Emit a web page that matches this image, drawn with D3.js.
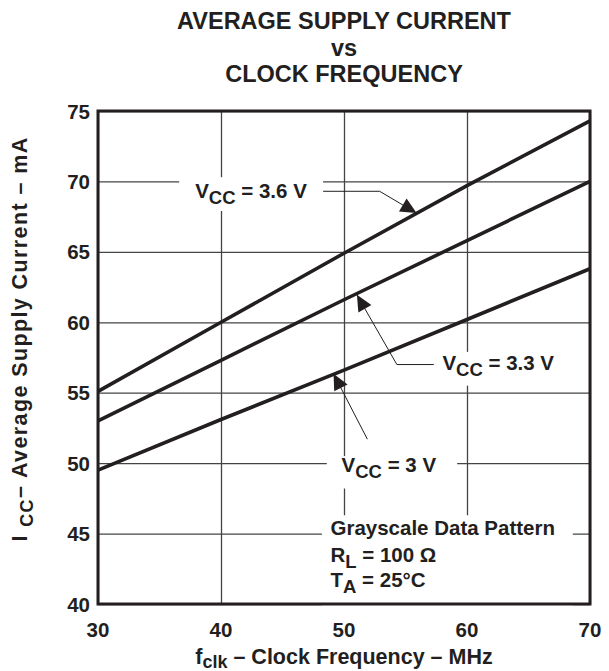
<!DOCTYPE html>
<html>
<head>
<meta charset="utf-8">
<script src="https://cdn.jsdelivr.net/npm/d3@7"></script>
<style>
  body { margin: 0; background: #fff; }
  text { font-family: "Liberation Sans", Arial, sans-serif; font-weight: bold; fill: #231f20; }
</style>
</head>
<body>
<svg width="609" height="671"></svg>
<script>
// ---- data ----
const freq = [30, 40, 50, 60, 70];                 // MHz
const icc36 = [55.1, 60.0, 64.9, 69.7, 74.3];       // mA, VCC = 3.6 V
const icc33 = [53.0, 57.3, 61.6, 65.8, 70.0];       // mA, VCC = 3.3 V
const icc30 = [49.5, 53.1, 56.6, 60.2, 63.8];       // mA, VCC = 3 V
const xTicks = [30, 40, 50, 60, 70];
const yTicks = [40, 45, 50, 55, 60, 65, 70, 75];

const svg = d3.select('svg');
const ink = '#231f20';

// plot box in pixels
const box = { l: 98, r: 590, t: 111, b: 604 };

const xScale = d3.scaleLinear().domain([30, 70]).range([box.l, box.r]);
const yScale = d3.scaleLinear().domain([40, 75]).range([box.b, box.t]);

// title
const title = ['AVERAGE SUPPLY CURRENT', 'vs', 'CLOCK FREQUENCY'];
svg.selectAll('.title')
    .data(title)
    .enter()
    .append('text')
    .attr('class', 'title')
    .attr('x', (box.l + box.r) / 2)
    .attr('y', (d, i) => 29 + i * 26.5)
    .attr('text-anchor', 'middle')
    .style('font-size', '23.5px')
    .text(d => d);

// grid
const xGrid = d3.axisTop(xScale).tickValues(xTicks).tickSize(-(box.b - box.t)).tickFormat('');
const yGrid = d3.axisLeft(yScale).tickValues(yTicks).tickSize(-(box.r - box.l)).tickFormat('');

svg.append('g')
    .attr('class', 'x grid')
    .attr('transform', `translate(0, ${box.t})`)
    .call(xGrid)
    .call(g => g.select('.domain').remove())
    .selectAll('line').attr('stroke', '#444').attr('stroke-width', 1.3);

svg.append('g')
    .attr('class', 'y grid')
    .attr('transform', `translate(${box.l}, 0)`)
    .call(yGrid)
    .call(g => g.select('.domain').remove())
    .selectAll('line').attr('stroke', '#444').attr('stroke-width', 1.3);

// white boxes behind labels (they break the grid)
const labelBoxes = [
    { f0: 36.6, f1: 48.3, v0: 70.3, v1: 67.9 },   // VCC = 3.6 V
    { f0: 57.3, f1: 69.9, v0: 57.9, v1: 55.5 },   // VCC = 3.3 V
    { f0: 48.6, f1: 59.2, v0: 50.5, v1: 48.2 },   // VCC = 3 V
    { f0: 48.2, f1: 68.6, v0: 46.3, v1: 39.6 }    // conditions
];
svg.selectAll('.lbox')
    .data(labelBoxes)
    .enter()
    .append('rect')
    .attr('class', 'lbox')
    .attr('x', d => xScale(d.f0))
    .attr('y', d => yScale(d.v0))
    .attr('width', d => xScale(d.f1) - xScale(d.f0))
    .attr('height', d => yScale(d.v1) - yScale(d.v0))
    .attr('fill', '#fff');

// frame
svg.append('rect')
    .attr('x', box.l)
    .attr('y', box.t)
    .attr('width', box.r - box.l)
    .attr('height', box.b - box.t)
    .attr('fill', 'none')
    .attr('stroke', ink)
    .attr('stroke-width', 3);

// curves
const series = [icc36, icc33, icc30];
const line = d3.line()
    .x((d, i) => xScale(freq[i]))
    .y(d => yScale(d));

svg.selectAll('.curve')
    .data(series)
    .enter()
    .append('path')
    .attr('class', 'curve')
    .attr('d', line)
    .attr('fill', 'none')
    .attr('stroke', ink)
    .attr('stroke-width', 3.6);

// axis tick labels
svg.selectAll('.xlab')
    .data(xTicks)
    .enter()
    .append('text')
    .attr('class', 'xlab')
    .attr('x', d => xScale(d))
    .attr('y', box.b + 33)
    .attr('text-anchor', 'middle')
    .style('font-size', '20.5px')
    .text(d => d);

svg.selectAll('.ylab')
    .data(yTicks)
    .enter()
    .append('text')
    .attr('class', 'ylab')
    .attr('x', box.l - 8)
    .attr('y', d => yScale(d) + 7.5)
    .attr('text-anchor', 'end')
    .style('font-size', '20.5px')
    .text(d => d);

// axis titles
const xTitle = svg.append('text')
    .attr('x', (box.l + box.r) / 2)
    .attr('y', 664)
    .attr('text-anchor', 'middle')
    .style('font-size', '21.5px');
xTitle.append('tspan').text('f');
xTitle.append('tspan').attr('dy', 4).style('font-size', '18px').text('clk');
xTitle.append('tspan').attr('dy', -4).text(' \u2013 Clock Frequency \u2013 MHz');

const yTitle = svg.append('text')
    .attr('transform', `translate(27, 339) rotate(-90)`)
    .attr('text-anchor', 'middle')
    .style('font-size', '21.5px')
    .style('letter-spacing', '1.4px');
yTitle.append('tspan').text('I ');
yTitle.append('tspan').attr('dy', 6).style('font-size', '18px').text('CC');
yTitle.append('tspan').attr('dy', -6).text('\u2013 Average Supply Current \u2013 mA');

// curve labels with leaders and arrowheads
const callouts = [
    { sub: 'CC', main: 'V', rest: ' = 3.6 V', tf: 37.9, tv: 68.8,
      leader: [[48.3, 69.3], [52.9, 69.3], [55.9, 67.75]] },
    { sub: 'CC', main: 'V', rest: ' = 3.3 V', tf: 58.0, tv: 56.6,
      leader: [[57.3, 57.0], [54.3, 57.0], [51.05, 61.95]] },
    { sub: 'CC', main: 'V', rest: ' = 3 V', tf: 49.8, tv: 49.35,
      leader: [[51.9, 51.7], [49.15, 56.35]] }
];

const leaderLine = d3.line()
    .x(d => xScale(d[0]))
    .y(d => yScale(d[1]));

callouts.forEach(c => {
    svg.append('path')
        .attr('d', leaderLine(c.leader))
        .attr('fill', 'none')
        .attr('stroke', ink)
        .attr('stroke-width', 1);

    // arrowhead at the last point, pointing along the last segment
    const p1 = c.leader[c.leader.length - 2];
    const p2 = c.leader[c.leader.length - 1];
    const x1 = xScale(p1[0]), y1 = yScale(p1[1]);
    const x2 = xScale(p2[0]), y2 = yScale(p2[1]);
    const ang = Math.atan2(y2 - y1, x2 - x1) * 180 / Math.PI;
    svg.append('path')
        .attr('d', 'M0,0 L-16,-7.5 L-16,7.5 Z')
        .attr('transform', `translate(${x2},${y2}) rotate(${ang})`)
        .attr('fill', ink);

    const t = svg.append('text')
        .attr('x', xScale(c.tf))
        .attr('y', yScale(c.tv))
        .style('font-size', '20.5px');
    t.append('tspan').text(c.main);
    t.append('tspan').attr('dy', 6).style('font-size', '18.5px').text(c.sub);
    t.append('tspan').attr('dy', -6).text(c.rest);
});

// test conditions
const condX = 48.9;
const cond = svg.append('g');
cond.append('text')
    .attr('x', xScale(condX))
    .attr('y', yScale(44.9))
    .style('font-size', '20.5px')
    .text('Grayscale Data Pattern');
const rl = cond.append('text')
    .attr('x', xScale(condX))
    .attr('y', yScale(42.95))
    .style('font-size', '20.5px');
rl.append('tspan').text('R');
rl.append('tspan').attr('dy', 6).style('font-size', '18.5px').text('L');
rl.append('tspan').attr('dy', -6).text(' = 100 \u03a9');
const ta = cond.append('text')
    .attr('x', xScale(condX))
    .attr('y', yScale(41.2))
    .style('font-size', '20.5px');
ta.append('tspan').text('T');
ta.append('tspan').attr('dy', 6).style('font-size', '18.5px').text('A');
ta.append('tspan').attr('dy', -6).text(' = 25\u00b0C');
</script>
</body>
</html>
